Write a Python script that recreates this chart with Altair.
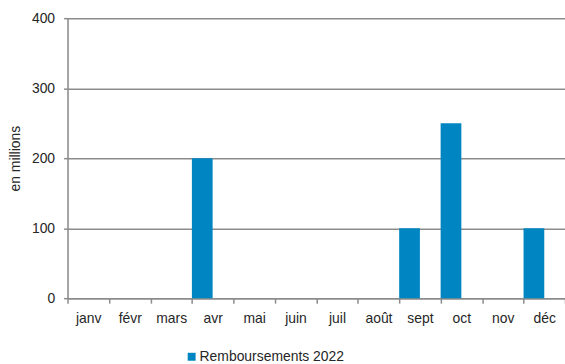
import altair as alt
import pandas as pd

months = ["janv", "févr", "mars", "avr", "mai", "juin", "juil", "août", "sept", "oct", "nov", "déc"]
values = [None, None, None, 200, None, None, None, None, 100, 250, None, 100]
series_name = "Remboursements 2022"
y_ticks = [0, 100, 200, 300, 400]

df = pd.DataFrame({"mois": months, "valeur": values, "serie": series_name})

FONT = "Liberation Sans"
GRID = "#8c8c8c"
TEXT = "#262626"

chart = alt.Chart(df).mark_bar(color="#0085C3").encode(
    x=alt.X("mois:N", sort=months, title=None,
            scale=alt.Scale(domain=months, paddingInner=0, paddingOuter=0),
            axis=alt.Axis(labelAngle=0, tickBand="extent", tickSize=5, tickColor=GRID,
                          tickWidth=1.5, domainColor=GRID, domainWidth=1.5,
                          labelPadding=8, labelFont=FONT, labelFontSize=14,
                          labelColor=TEXT, grid=False)),
    xOffset=alt.XOffset("serie:N", scale=alt.Scale(domain=[series_name, "_"], paddingInner=0, paddingOuter=0)),
    y=alt.Y("valeur:Q", title="en millions",
            scale=alt.Scale(domain=[0, 400], nice=False),
            axis=alt.Axis(values=y_ticks, tickSize=4, tickColor=GRID, tickWidth=1.5,
                          domainColor=GRID, domainWidth=1.5, gridColor=GRID, gridWidth=1.5,
                          labelPadding=9, labelFont=FONT, labelFontSize=14, labelColor=TEXT,
                          titleFont=FONT, titleFontSize=14, titleFontWeight="normal",
                          titleColor=TEXT, titleX=-52, titleY=141, titleAngle=-90,
                          titleAlign="center", titleBaseline="middle")),
    color=alt.Color("serie:N", scale=alt.Scale(domain=[series_name], range=["#0085C3"]),
                    legend=alt.Legend(title=None, orient="none", legendX=118, legendY=334,
                                      symbolType="square", symbolSize=64, symbolStrokeWidth=0,
                                      labelFont=FONT, labelFontSize=14, labelColor=TEXT,
                                      labelOffset=1, padding=0)),
).properties(
    width=501, height=282,
    autosize=alt.AutoSizeParams(type="none"),
    padding={"left": 68, "top": 17, "right": 0, "bottom": 65},
).configure_view(stroke=None).configure(background="white")

chart.save("out.html", embed_options={"renderer": "svg", "actions": False})
